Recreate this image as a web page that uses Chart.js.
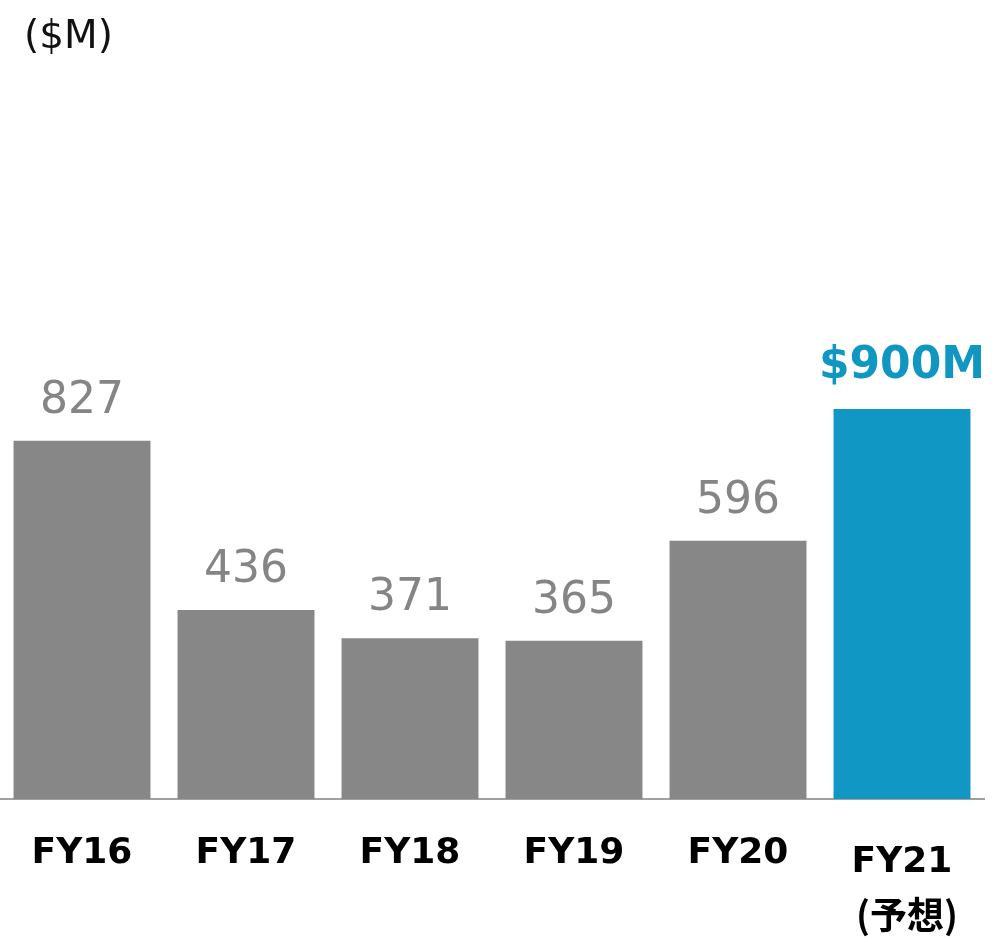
<!DOCTYPE html>
<html>
<head>
<meta charset="utf-8">
<script src="https://cdn.jsdelivr.net/npm/chart.js@4/dist/chart.umd.min.js"></script>
<style>
  html, body { margin: 0; padding: 0; background: #fff; }
  #wrap { width: 992px; height: 937px; }
</style>
</head>
<body>
<div id="wrap"><canvas id="myChart" width="992" height="937"></canvas></div>
<script>
// values ($M)
var categories = ['FY16', 'FY17', 'FY18', 'FY19', 'FY20', 'FY21'];
var subLabels = ['', '', '', '', '', '(予想)'];
var revenue = [827, 436, 371, 365, 596, 900];
var unitLabel = '($M)';

var gray = '#878787';
var blue = '#1197c3';
var barColors = revenue.map(function (v, i) {
    return i === revenue.length - 1 ? blue : gray;
});

// value labels above bars, unit text and category labels
var labelPlugin = {
    id: 'labels',
    afterDatasetsDraw: function (chart) {
        var ctx = chart.ctx;
        var meta = chart.getDatasetMeta(0);
        var last = revenue.length - 1;
        ctx.save();
        ctx.textAlign = 'center';
        ctx.textBaseline = 'alphabetic';
        meta.data.forEach(function (bar, i) {
            if (i === last) {
                ctx.font = 'bold 44px "DejaVu Sans"';
                ctx.fillStyle = '#0f97c1';
                ctx.fillText('$' + revenue[i] + 'M', bar.x, bar.y - 31);
            } else {
                ctx.font = '44px "DejaVu Sans"';
                ctx.fillStyle = '#858585';
                ctx.fillText(String(revenue[i]), bar.x, bar.y - 28);
            }
        });

        // category labels under the axis
        var xScale = chart.scales.x;
        var base = 799;
        ctx.fillStyle = '#000';
        categories.forEach(function (c, i) {
            var x = xScale.getPixelForValue(i);
            ctx.font = 'bold 36px "DejaVu Sans"';
            if (subLabels[i]) {
                ctx.fillText(c, x, base + 73);
                ctx.font = 'bold 37px "Noto Sans CJK JP"';
                ctx.fillText(subLabels[i], x + 5, base + 130);
            } else {
                ctx.fillText(c, x, base + 64);
            }
        });

        // unit
        ctx.textAlign = 'left';
        ctx.font = '39px "DejaVu Sans"';
        ctx.fillStyle = '#111';
        ctx.fillText(unitLabel, 24, 48);
        ctx.restore();
    }
};

var ctx = document.getElementById('myChart').getContext('2d');
var myChart = new Chart(ctx, {
    type: 'bar',
    data: {
        labels: categories,
        datasets: [{
            data: revenue,
            backgroundColor: barColors,
            borderWidth: 0,
            categoryPercentage: 1,
            barPercentage: 0.835
        }]
    },
    options: {
        responsive: false,
        animation: false,
        layout: {
            padding: { top: 19, bottom: 130, left: 0, right: 8 }
        },
        plugins: {
            legend: { display: false },
            tooltip: { enabled: false }
        },
        scales: {
            x: {
                grid: { display: false },
                border: { display: true, color: '#a0a0a0', width: 2 },
                ticks: { display: false }
            },
            y: {
                display: false,
                min: 0,
                max: 1800
            }
        }
    },
    plugins: [labelPlugin]
});
</script>
</body>
</html>
